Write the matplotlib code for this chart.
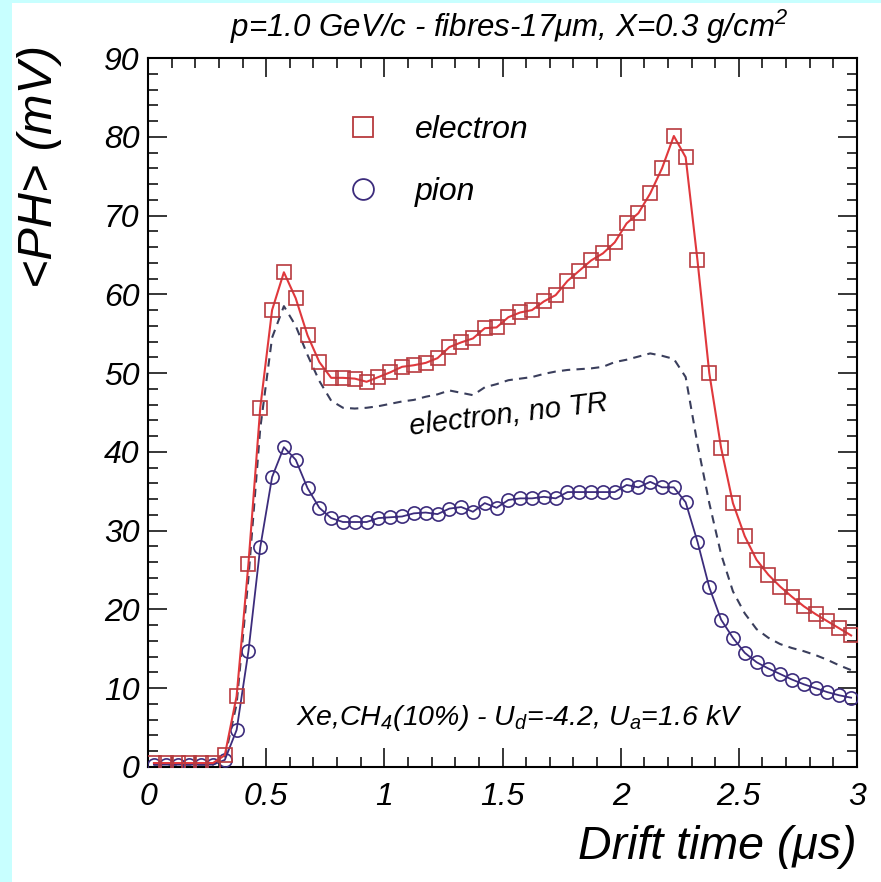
import numpy as np
import matplotlib
matplotlib.use("Agg")
import matplotlib.pyplot as plt
from matplotlib.lines import Line2D
from matplotlib.patches import Rectangle
from matplotlib.ticker import MultipleLocator

plt.rcParams["font.family"] = ["Liberation Sans", "DejaVu Sans"]
plt.rcParams["font.style"] = "italic"
plt.rcParams["mathtext.fontset"] = "custom"
plt.rcParams["mathtext.rm"] = "Liberation Sans:italic"
plt.rcParams["mathtext.it"] = "Liberation Sans:italic"

# -----------------------------
# Data, bins of 0.05 us
# -----------------------------
drift_time = np.arange(60) * 0.05 + 0.025

electron = [0.5, 0.5, 0.5, 0.5, 0.5, 0.5, 1.5, 9.0, 25.8, 45.6,
            58.0, 62.8, 59.5, 54.8, 51.4, 49.4, 49.4, 49.3, 48.9, 49.5,
            50.1, 50.8, 51.0, 51.3, 51.9, 53.3, 53.9, 54.4, 55.7, 55.8,
            57.1, 57.7, 58.0, 59.1, 59.9, 61.7, 63.0, 64.3, 65.2, 66.6,
            69.0, 70.3, 72.8, 76.0, 80.1, 77.4, 64.3, 50.0, 40.5, 33.5,
            29.3, 26.3, 24.4, 22.9, 21.6, 20.4, 19.4, 18.5, 17.6, 16.7]

pion = [0.3, 0.3, 0.3, 0.3, 0.3, 0.3, 0.9, 4.7, 14.7, 27.9,
        36.8, 40.6, 39.0, 35.4, 32.9, 31.6, 31.1, 31.1, 31.1, 31.6,
        31.7, 31.8, 32.2, 32.3, 32.1, 32.8, 33.0, 32.4, 33.5, 32.9,
        33.9, 34.1, 34.1, 34.3, 34.1, 34.9, 34.9, 34.9, 34.9, 34.9,
        35.8, 35.5, 36.2, 35.5, 35.5, 33.6, 28.6, 22.8, 18.7, 16.4,
        14.5, 13.3, 12.5, 11.8, 11.1, 10.5, 10.0, 9.5, 9.1, 8.8]

electron_no_tr = [0.3, 0.3, 0.3, 0.3, 0.3, 0.3, 1.2, 8.0, 24.0, 43.0,
                  54.5, 58.5, 56.0, 52.3, 49.0, 46.5, 45.6, 45.5, 45.6, 45.8,
                  46.1, 46.4, 46.6, 47.0, 47.3, 47.8, 47.5, 47.2, 48.2, 48.6,
                  49.1, 49.3, 49.5, 49.9, 50.2, 50.4, 50.5, 50.6, 50.8, 51.4,
                  51.7, 52.1, 52.5, 52.2, 51.8, 49.5, 41.0, 33.5, 27.0, 22.3,
                  19.5, 17.5, 16.4, 15.6, 15.1, 14.7, 14.2, 13.6, 12.9, 12.3]

red_line = "#e0383c"
red_mark = "#b83a3e"
blue = "#3c2c7c"
dash_col = "#3a3e5c"

# -----------------------------
# Figure
# -----------------------------
fig = plt.figure(figsize=(8.81, 8.82), dpi=100)
fig.patch.set_facecolor("white")
# light cyan border of the page (left and top)
fig.patches.append(Rectangle((0, 0), 12 / 881, 1, transform=fig.transFigure,
                             facecolor="#c8ffff", edgecolor="none", zorder=0))
fig.patches.append(Rectangle((0, 1 - 3 / 882), 1, 3 / 882, transform=fig.transFigure,
                             facecolor="#c8ffff", edgecolor="none", zorder=0))

ax = fig.add_axes([148 / 881, 115 / 882, 709 / 881, 709 / 882])

ax.plot(drift_time, electron_no_tr, ls=(0, (4, 3)), color=dash_col, lw=1.5, zorder=2)
ax.plot(drift_time, pion, ls="-", color=blue, lw=1.3, marker="o", ms=9.5,
        mfc="none", mec=blue, mew=1.2, zorder=3)
ax.plot(drift_time, electron, ls="-", color=red_line, lw=1.5, marker="s", ms=10.5,
        mfc="none", mec=red_mark, mew=1.2, zorder=4)

ax.set_xlim(0, 3)
ax.set_ylim(0, 90)
ax.xaxis.set_major_locator(MultipleLocator(0.5))
ax.xaxis.set_minor_locator(MultipleLocator(0.1))
ax.yaxis.set_major_locator(MultipleLocator(10))
ax.yaxis.set_minor_locator(MultipleLocator(2))
ax.set_xticks([0, 0.5, 1, 1.5, 2, 2.5, 3])
ax.set_xticklabels(["0", "0.5", "1", "1.5", "2", "2.5", "3"])
ax.tick_params(which="both", direction="in", top=True, right=True, width=1.1)
ax.tick_params(which="major", length=14, labelsize=23)
ax.tick_params(which="minor", length=7)
ax.tick_params(axis="x", pad=11)
ax.tick_params(axis="y", pad=6)
for s in ax.spines.values():
    s.set_linewidth(1.5)

ax.set_xlabel("Drift time (\u03bcs)", fontsize=33.5, loc="right")
ax.xaxis.set_label_coords(1.0, -0.082)
ax.set_ylabel("<PH> (mV)", fontsize=35, loc="top")
ax.yaxis.set_label_coords(-0.121, 1.018)

fig.text(509 / 881, 1 - 27 / 882, "p=1.0 GeV/c - fibres-17\u03bcm, X=0.3 g/cm$^2$",
         fontsize=22.5, ha="center", va="center")

ax.text(0.508, 0.497, "electron, no TR", transform=ax.transAxes, fontsize=21,
        rotation=7, ha="center", va="center")
ax.text(0.523, 0.069, "Xe,CH$_4$(10%) - U$_d$=-4.2, U$_a$=1.6 kV",
        transform=ax.transAxes, fontsize=20.5, ha="center", va="center")

handles = [Line2D([], [], ls="none", marker="s", ms=15, mfc="none", mec=red_mark, mew=1.3),
           Line2D([], [], ls="none", marker="o", ms=15, mfc="none", mec=blue, mew=1.3)]
ax.legend(handles, ["electron", "pion"], loc="upper left",
          bbox_to_anchor=(0.235, 0.96), frameon=False, fontsize=23,
          handletextpad=1.05, labelspacing=1.0, handlelength=1.2)

fig.savefig("out.png", dpi=100)
